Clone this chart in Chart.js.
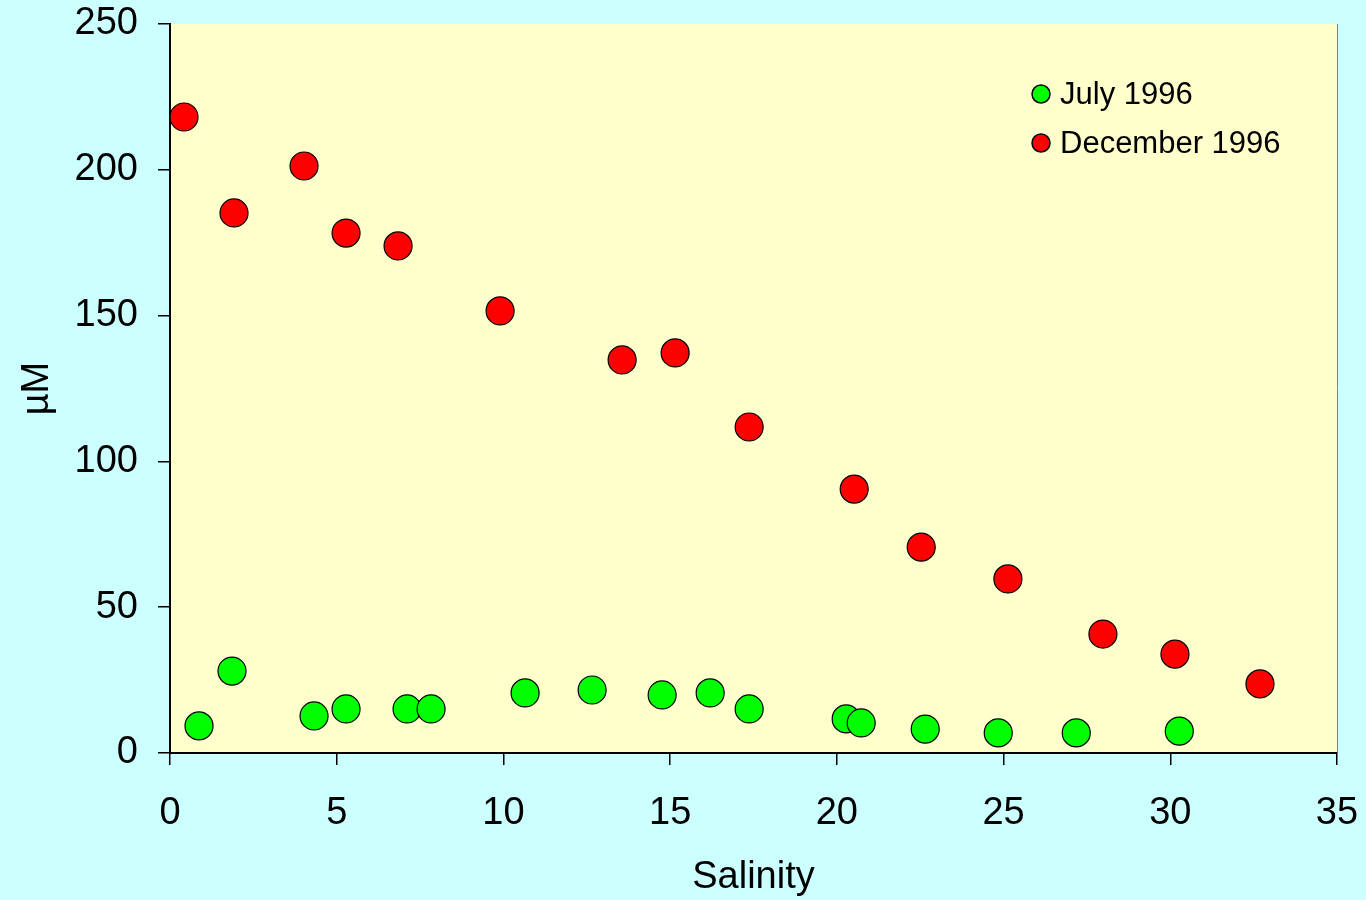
<!DOCTYPE html>
<html>
<head>
<meta charset="utf-8">
<script src="https://cdn.jsdelivr.net/npm/chart.js@4/dist/chart.umd.min.js"></script>
<style>
  html, body { margin: 0; padding: 0; background: #ccffff; }
  #wrap { width: 1366px; height: 900px; }
</style>
</head>
<body>
<div id="wrap"><canvas id="grafica"></canvas></div>
<script>
// datos (salinidad vs uM)
const julioSal = [0.87, 1.86, 4.32, 5.28, 7.11, 7.83, 10.65, 12.66, 14.76, 16.2, 17.37, 20.28, 20.73, 22.65, 24.84, 27.18, 30.27];
const julioUM = [9.3, 28.1, 12.7, 15.1, 15.1, 15.1, 20.6, 21.6, 19.9, 20.6, 15.1, 11.7, 10.3, 8.2, 6.9, 6.9, 7.5];
const dicSal = [0.42, 1.92, 4.02, 5.28, 6.84, 9.9, 13.56, 15.15, 17.37, 20.52, 22.53, 25.13, 27.98, 30.14, 32.69];
const dicUM = [218.1, 185.2, 201.3, 178.3, 173.9, 151.6, 134.8, 137.2, 111.8, 90.5, 70.6, 59.7, 40.8, 33.9, 23.7];
const etiquetas = ['July 1996', 'December 1996'];
const colores = ['#00ff00', '#ff0000'];

function puntos(xs, ys) {
        return xs.map((x, i) => ({ x: x, y: ys[i] }));
}

// quita el relleno que chart.js agrega por las etiquetas
function sinRelleno(scale) {
        scale.paddingTop = 0;
        scale.paddingBottom = 0;
        scale.paddingLeft = 0;
        scale.paddingRight = 0;
}

// fondo amarillo del area y borde derecho
const fondoArea = {
        id: 'fondoArea',
        beforeDraw(chart) {
                const a = chart.chartArea, ctx = chart.ctx;
                ctx.save();
                ctx.fillStyle = '#ffffcc';
                ctx.fillRect(a.left, a.top, a.right - a.left, a.bottom - a.top);
                ctx.strokeStyle = '#808080';
                ctx.lineWidth = 1;
                ctx.beginPath();
                ctx.moveTo(a.right + 0.5, a.top);
                ctx.lineTo(a.right + 0.5, a.bottom);
                ctx.stroke();
                ctx.restore();
        }
};

// leyenda dentro del area del grafico
const leyendaInterna = {
        id: 'leyendaInterna',
        afterDraw(chart) {
                const ctx = chart.ctx;
                ctx.save();
                chart.data.datasets.forEach((ds, i) => {
                        const y = 94 + i * 49;
                        ctx.beginPath();
                        ctx.arc(1041, y, 9, 0, Math.PI * 2);
                        ctx.fillStyle = ds.backgroundColor;
                        ctx.fill();
                        ctx.lineWidth = 1.5;
                        ctx.strokeStyle = '#000';
                        ctx.stroke();
                        ctx.fillStyle = '#000';
                        ctx.font = '31px "Liberation Sans", Arial, sans-serif';
                        ctx.textBaseline = 'middle';
                        ctx.fillText(ds.label, 1060, y + 1);
                });
                ctx.restore();
        }
};

Chart.defaults.font.family = '"Liberation Sans", Arial, sans-serif';
Chart.defaults.color = '#000';

new Chart(document.getElementById('grafica').getContext('2d'), {
        type: 'scatter',
        data: {
                datasets: [{
                        label: etiquetas[0],
                        data: puntos(julioSal, julioUM),
                        backgroundColor: colores[0],
                        borderColor: '#000',
                        borderWidth: 1.2,
                        pointRadius: 14,
                        pointHoverRadius: 14
                }, {
                        label: etiquetas[1],
                        data: puntos(dicSal, dicUM),
                        backgroundColor: colores[1],
                        borderColor: '#000',
                        borderWidth: 1.2,
                        pointRadius: 14,
                        pointHoverRadius: 14
                }]
        },
        options: {
                responsive: true,
                maintainAspectRatio: false,
                animation: false,
                layout: { padding: { top: 24, right: 29, left: 0, bottom: 0 } },
                plugins: {
                        legend: { display: false },
                        tooltip: { enabled: false }
                },
                scales: {
                        x: {
                                type: 'linear',
                                min: 0,
                                max: 35,
                                border: { color: '#000', width: 2 },
                                grid: { drawOnChartArea: false, drawTicks: true, tickLength: 12, color: '#000', lineWidth: 1.5 },
                                ticks: { stepSize: 5, padding: 26, font: { size: 38 }, maxRotation: 0 },
                                title: { display: true, text: 'Salinity', font: { size: 38 }, padding: { top: 0, bottom: 0 } },
                                afterFit(scale) { scale.height = 147; sinRelleno(scale); }
                        },
                        y: {
                                min: 0,
                                max: 250,
                                border: { color: '#000', width: 2 },
                                grid: { drawOnChartArea: false, drawTicks: true, tickLength: 12, color: '#000', lineWidth: 1.5 },
                                ticks: { stepSize: 50, padding: 20, font: { size: 38 } },
                                title: { display: true, text: 'µM', font: { size: 38 }, padding: { top: 15, bottom: 0 } },
                                afterFit(scale) { scale.width = 170; sinRelleno(scale); }
                        }
                }
        },
        plugins: [fondoArea, leyendaInterna]
});
</script>
</body>
</html>
